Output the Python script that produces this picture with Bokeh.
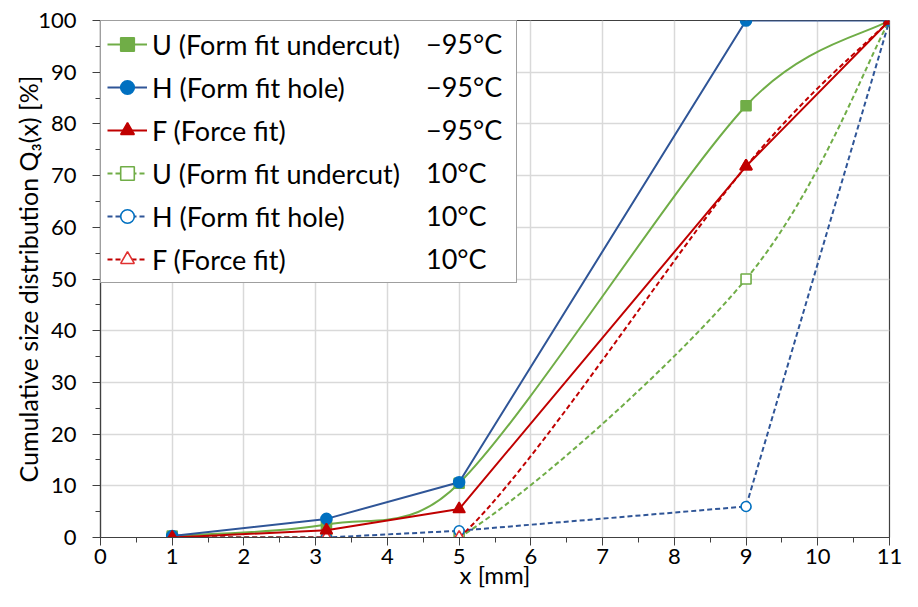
import numpy as np
from bokeh.plotting import figure
from bokeh.models import Legend, LegendItem, Range1d, FixedTicker
from bokeh.embed import file_html
from bokeh.resources import INLINE

# ---------------- data ----------------
x_mm = [1.0, 3.15, 5.0, 9.0, 11.0]
u_m95 = [0.3, 2.5, 10.5, 83.5, 100.0]
h_m95 = [0.3, 3.6, 10.7, 100.0, 100.0]
f_m95 = [0.0, 1.4, 5.5, 71.8, 100.0]
u_10 = [0.0, 0.0, 0.0, 50.0, 100.0]
h_10 = [0.0, 0.0, 1.3, 6.0, 100.0]
f_10 = [0.0, 0.0, 0.0, 71.8, 100.0]

x_ticks = list(range(0, 12))
x_minor = [i + 0.5 for i in range(0, 11)]
y_ticks = list(range(0, 101, 10))
y_minor = list(range(5, 100, 10))

names = ["U (Form fit undercut)", "H (Form fit hole)", "F (Force fit)",
         "U (Form fit undercut)", "H (Form fit hole)", "F (Force fit)"]
temps = ["\u221295\u00b0C", "\u221295\u00b0C", "\u221295\u00b0C", "10\u00b0C", "10\u00b0C", "10\u00b0C"]
y_title = "Cumulative size distribution Q\u2083(x) [%]"
x_title = "x [mm]"

FONT = "Lato"
GREEN = "#70AD47"
BLUE_L = "#2F5597"
BLUE_M = "#0070C0"
RED = "#C00000"
AX = "#404040"

W, H = 902, 591
FL, FR, FT, FB = 100, 13, 20, 54
FRAME_H = H - FT - FB
SX = (W - FL - FR) / 11.0     # pixels per x unit (for curve smoothing)
SY = FRAME_H / 100.0          # pixels per y unit

p = figure(width=W, height=H, output_backend="svg", toolbar_location=None,
           x_range=Range1d(0, 11), y_range=Range1d(0, 100),
           min_border_left=FL, min_border_right=FR, min_border_top=FT, min_border_bottom=FB)
p.background_fill_color = "white"
p.border_fill_color = "white"
p.outline_line_color = AX
p.outline_line_width = 1.2

for ax in (p.xaxis[0], p.yaxis[0]):
    ax.axis_line_color = AX
    ax.axis_line_width = 1.2
    ax.major_tick_line_color = AX
    ax.minor_tick_line_color = AX
    ax.major_tick_out = 8
    ax.major_tick_in = 0
    ax.minor_tick_out = 5
    ax.minor_tick_in = 0
    ax.major_label_text_font = FONT
    ax.major_label_text_font_size = "22px"
    ax.major_label_text_color = "#000000"
    ax.axis_label_text_font = FONT
    ax.axis_label_text_font_style = "normal"
    ax.axis_label_text_color = "#000000"
p.xaxis[0].ticker = FixedTicker(ticks=x_ticks, minor_ticks=x_minor)
p.yaxis[0].ticker = FixedTicker(ticks=y_ticks, minor_ticks=y_minor)
p.xaxis[0].major_label_standoff = 3
p.yaxis[0].major_label_standoff = 16
p.xaxis[0].axis_label = x_title
p.yaxis[0].axis_label = y_title
p.xaxis[0].axis_label_text_font_size = "24px"
p.yaxis[0].axis_label_text_font_size = "25px"
p.xaxis[0].axis_label_standoff = -7
p.yaxis[0].axis_label_standoff = -8

p.grid.grid_line_color = "#D9D9D9"
p.grid.grid_line_width = 1.5


def smooth_ctrl(xs, ys, k=0.5):
    """Bezier control points of a Catmull-Rom style smoothed line (arms limited
    to k times the pixel length of their segment)."""
    n = len(xs)
    out = {k_: [] for k_ in ("x0", "y0", "x1", "y1", "cx0", "cy0", "cx1", "cy1")}

    def clamp(dx, dy, seg):
        L = np.hypot(dx * SX, dy * SY)
        s = min(1.0, k * seg / L) if L > 0 else 1.0
        return dx * s, dy * s

    for i in range(n - 1):
        a = max(i - 1, 0)
        b = min(i + 2, n - 1)
        seg = np.hypot((xs[i + 1] - xs[i]) * SX, (ys[i + 1] - ys[i]) * SY)
        dx0, dy0 = clamp((xs[i + 1] - xs[a]) / 6.0, (ys[i + 1] - ys[a]) / 6.0, seg)
        dx1, dy1 = clamp((xs[b] - xs[i]) / 6.0, (ys[b] - ys[i]) / 6.0, seg)
        out["x0"].append(xs[i]); out["y0"].append(ys[i])
        out["x1"].append(xs[i + 1]); out["y1"].append(ys[i + 1])
        out["cx0"].append(xs[i] + dx0); out["cy0"].append(ys[i] + dy0)
        out["cx1"].append(xs[i + 1] - dx1); out["cy1"].append(ys[i + 1] - dy1)
    return out


def series(ys, color, mcolor, marker, size, dashed, hollow, smooth):
    dash = "5 3" if dashed else "solid"
    rs = []
    if smooth:
        c = smooth_ctrl(x_mm, ys)
        rs.append(p.bezier(**c, line_color=color, line_width=2, line_dash=dash))
    else:
        rs.append(p.line(x_mm, ys, line_color=color, line_width=2, line_dash=dash))
    fill = "white" if hollow else mcolor
    rs.append(p.scatter(x_mm, ys, marker=marker, size=size, line_color=mcolor,
                        fill_color=fill, line_width=1.6))
    return rs


r_u10 = series(u_10, GREEN, GREEN, "square", 10, True, True, True)
r_h10 = series(h_10, BLUE_L, BLUE_M, "circle", 10, True, True, False)
r_f10 = series(f_10, RED, "#E03030", "triangle", 12, True, True, True)
r_um = series(u_m95, GREEN, GREEN, "square", 10, False, False, True)
r_hm = series(h_m95, BLUE_L, BLUE_M, "circle", 11, False, False, False)
r_fm = series(f_m95, RED, RED, "triangle", 12, False, False, False)

LEG = dict(padding=6, spacing=9, glyph_height=34, label_height=34,
           label_text_font=FONT, label_text_font_size="27px", label_text_color="black")

all_r = [r_um, r_hm, r_fm, r_u10, r_h10, r_f10]
items = [LegendItem(label=names[i], renderers=all_r[i]) for i in range(6)]
legend = Legend(items=items, location="top_left", margin=0,
                glyph_width=40, label_standoff=5, label_width=358,
                border_line_color=AX, border_line_width=1.2,
                background_fill_color="white", background_fill_alpha=1.0, **LEG)
p.add_layout(legend, "center")

# second (glyph-less) legend column holding the temperatures
blank = p.line([], [], line_alpha=0)
leg_h = 2 * 6 + 6 * 34 + 5 * 9
legend2 = Legend(items=[LegendItem(label=t, renderers=[blank]) for t in temps],
                 location=(319, FRAME_H - leg_h), margin=0,
                 glyph_width=1, label_standoff=0,
                 border_line_alpha=0, background_fill_alpha=0, **LEG)
p.add_layout(legend2, "center")

open("out.html", "w").write(file_html(p, INLINE))
